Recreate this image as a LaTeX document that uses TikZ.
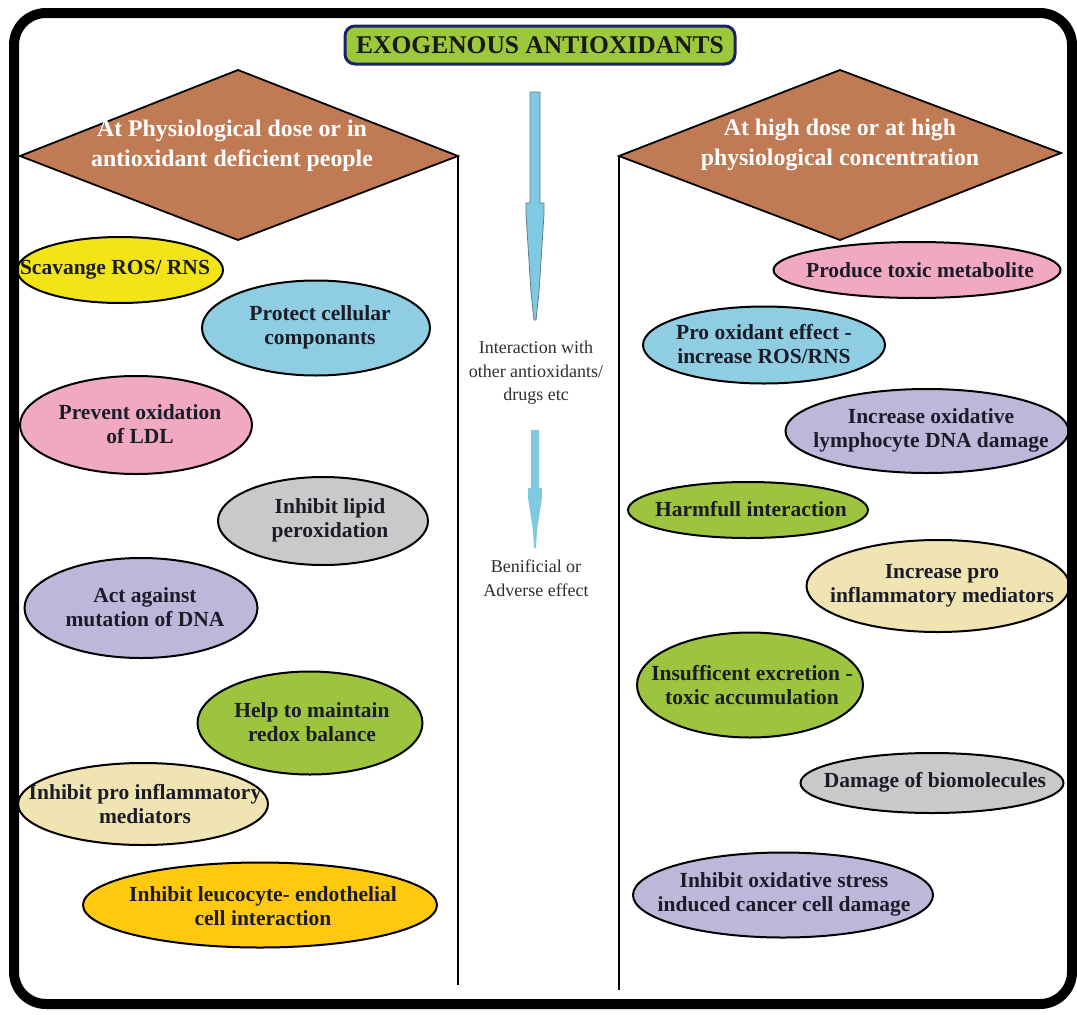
\documentclass[tikz,border=0pt]{standalone}
\usepackage{fontspec}
\setmainfont{Liberation Serif}
\usetikzlibrary{shapes.geometric}
\definecolor{cyellow}{HTML}{F3E415}
\definecolor{cblue}{HTML}{8FCDE3}
\definecolor{cpink}{HTML}{F0A9C0}
\definecolor{cgray}{HTML}{C9C9C9}
\definecolor{clav}{HTML}{BDB7DA}
\definecolor{cgreen}{HTML}{9CC43F}
\definecolor{ccream}{HTML}{EFE4B2}
\definecolor{cgold}{HTML}{FFC90E}
\definecolor{cbrown}{HTML}{C07B55}
\definecolor{ctitle}{HTML}{9CC93C}
\definecolor{cnavy}{HTML}{1B2367}
\definecolor{ctxt}{HTML}{1C1C28}
\definecolor{carrow}{HTML}{80C9E2}
\definecolor{carrowedge}{HTML}{5F7D88}
\begin{document}
\begin{tikzpicture}[x=1pt,y=-1pt,
  ell/.style={ellipse, draw=black, line width=2pt, inner sep=0pt},
  etext/.style={font=\fontsize{21.5}{24}\selectfont\bfseries, text=ctxt, align=center, inner sep=0pt},
  dtext/.style={font=\fontsize{23.8}{29.5}\selectfont\bfseries, text=white, align=center, inner sep=0pt},
  mtext/.style={font=\fontsize{18}{23.5}\selectfont, text=black!82, align=center, inner sep=0pt},
  dia/.style={fill=cbrown, draw=black, line width=1.8pt, line join=miter},
  vline/.style={draw=black, line width=1.8pt},
  arrowshape/.style={fill=carrow, draw=carrowedge, line width=0.8pt, line join=round}
]
\useasboundingbox (0,0) rectangle (1077,1015);

% title
\node[draw=cnavy, line width=3pt, fill=ctitle, rounded corners=10pt, minimum width=390, minimum height=38, inner sep=0pt,
      font=\fontsize{25.5}{28}\selectfont\bfseries, text=black!90] (title) at (540,45) {EXOGENOUS ANTIOXIDANTS};

% diamonds
\coordinate (lL) at (20,156);
\coordinate (lT) at (238,70);
\coordinate (lR) at (458,156);
\coordinate (lB) at (238,240);
\coordinate (lEnd) at (458,985);
\path[dia] (lL) -- (lT) -- (lR) -- (lB) -- cycle;
\node[dtext] (ldt) at (232,146) {At Physiological dose or in\\antioxidant deficient people};
\draw[vline] (lR) -- (lEnd);

\coordinate (rL) at (619,156);
\coordinate (rT) at (840,70);
\coordinate (rR) at (1061,153);
\coordinate (rB) at (840,240);
\coordinate (rEnd) at (619,990);
\path[dia] (rL) -- (rT) -- (rR) -- (rB) -- cycle;
\node[dtext] (rdt) at (840,145) {At high dose or at high\\physiological concentration};
\draw[vline] (rL) -- (rEnd);

% central arrows
\path[arrowshape] (530,92) -- (540,92) -- (540,203) -- (544,203) -- (544,214) -- (539,292) -- (536,320) -- (534,320) -- (531,292) -- (526,214) -- (526,203) -- (530,203) -- cycle;
\node[mtext] (mid1) at (536,373) {Interaction with\\other antioxidants/\\drugs etc};
\path[fill=carrow] (531,430) -- (539,430) -- (539,488) -- (542,488) -- (542,498) -- (537,530) -- (536,548) -- (534,548) -- (533,530) -- (528,498) -- (528,488) -- (531,488) -- cycle;
\node[mtext] (mid2) at (536,578) {Benificial or\\Adverse effect};

% left ellipses
\node[ell, fill=cyellow, minimum width=206, minimum height=66] (l1) at (120,270) {};
\node[etext] (l1t) at (115,270) {Scavange ROS/ RNS};
\node[ell, fill=cblue, minimum width=228, minimum height=95] (l2) at (316,328) {};
\node[etext] (l2t) at (320,327) {Protect cellular\\componants};
\node[ell, fill=cpink, minimum width=232, minimum height=98] (l3) at (136,425) {};
\node[etext] (l3t) at (140,424) {Prevent oxidation\\of LDL};
\node[ell, fill=cgray, minimum width=210, minimum height=88] (l4) at (323,521) {};
\node[etext] (l4t) at (330,520) {Inhibit lipid\\peroxidation};
\node[ell, fill=clav, minimum width=233, minimum height=100] (l5) at (141,608) {};
\node[etext] (l5t) at (145,607) {Act against\\mutation of DNA};
\node[ell, fill=cgreen, minimum width=225, minimum height=103] (l6) at (310,723) {};
\node[etext] (l6t) at (312,722) {Help to maintain\\redox balance};
\node[ell, fill=ccream, minimum width=250, minimum height=82] (l7) at (143,804) {};
\node[etext] (l7t) at (145,804) {Inhibit pro inflammatory\\mediators};
\node[ell, fill=cgold, minimum width=354, minimum height=85] (l8) at (260,905) {};
\node[etext] (l8t) at (263,906) {Inhibit leucocyte- endothelial\\cell interaction};

% right ellipses
\node[ell, fill=cpink, minimum width=287, minimum height=56] (r1) at (917,270) {};
\node[etext] (r1t) at (920,270) {Produce toxic metabolite};
\node[ell, fill=cblue, minimum width=242, minimum height=77] (r2) at (764,345) {};
\node[etext] (r2t) at (764,344) {Pro oxidant effect -\\increase ROS/RNS};
\node[ell, fill=clav, minimum width=283, minimum height=84] (r3) at (927,431) {};
\node[etext] (r3t) at (931,430) {Increase oxidative\\lymphocyte DNA damage};
\node[ell, fill=cgreen, minimum width=240, minimum height=56] (r4) at (748,510) {};
\node[etext] (r4t) at (751,509) {Harmfull interaction};
\node[ell, fill=ccream, minimum width=263, minimum height=92] (r5) at (938,586) {};
\node[etext] (r5t) at (942,586) {Increase pro\\inflammatory mediators};
\node[ell, fill=cgreen, minimum width=226, minimum height=105] (r6) at (750,685) {};
\node[etext] (r6t) at (752,685) {Insufficent excretion -\\toxic accumulation};
\node[ell, fill=cgray, minimum width=263, minimum height=60] (r7) at (932,783) {};
\node[etext] (r7t) at (935,782) {Damage of biomolecules};
\node[ell, fill=clav, minimum width=300, minimum height=85] (r8) at (783,895) {};
\node[etext] (r8t) at (784,894) {Inhibit oxidative stress\\induced cancer cell damage};

% outer frame
\draw[black, line width=10pt, rounded corners=32pt] (14,13) rectangle (1072,1004);
\end{tikzpicture}
\end{document}
